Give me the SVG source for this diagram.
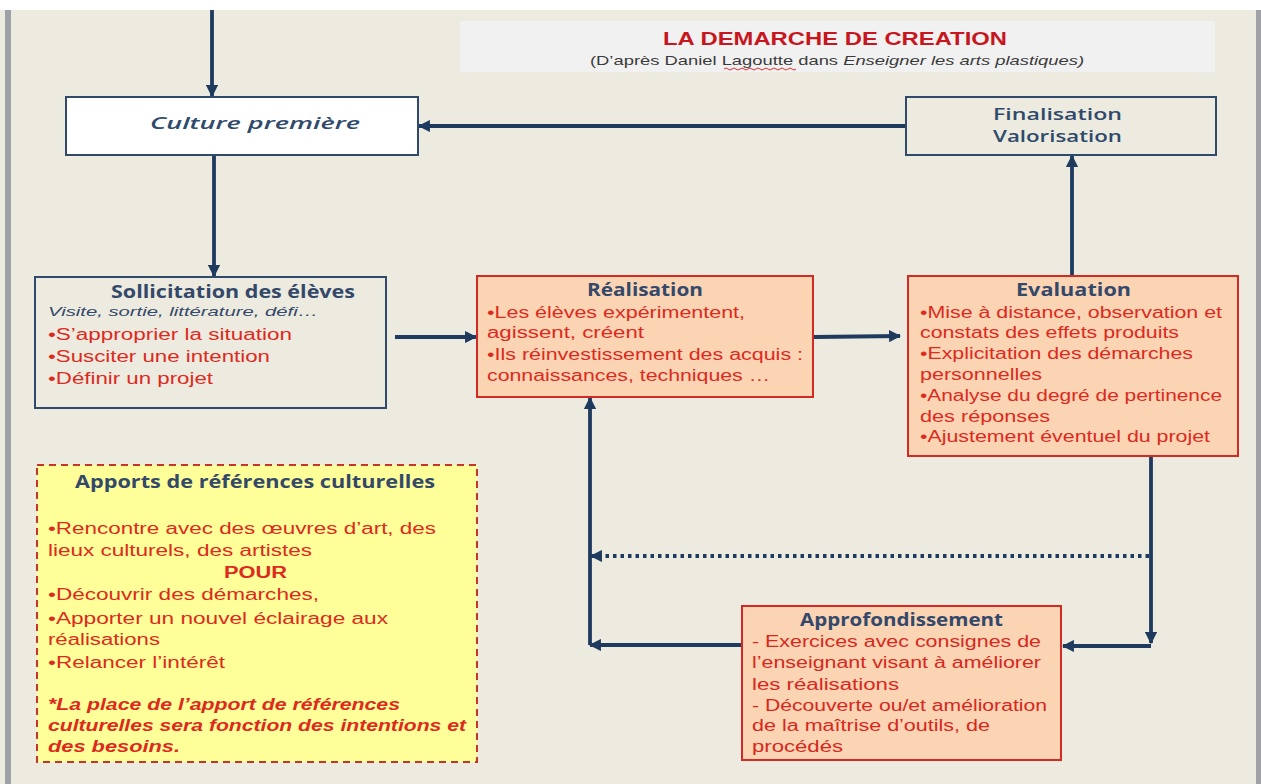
<svg xmlns="http://www.w3.org/2000/svg" width="1261" height="784" viewBox="0 0 1261 784">
<style>
.bg{fill:#EDEBE0}
.navybox{fill:none;stroke:#2F4A6B;stroke-width:2}
.whitebox{fill:#FFFFFF;stroke:#2F4A6B;stroke-width:2}
.peach{fill:#FBD4B4;stroke:#D42A25;stroke-width:2}
.yellow{fill:#FFFF99;stroke:#C6352A;stroke-width:2;stroke-dasharray:7 5}
.con{fill:none;stroke:#1F3A5F;stroke-width:3.8}
.dot{fill:none;stroke:#1F3A5F;stroke-width:3.8;stroke-dasharray:3.5 4}
.hd{font-family:"Open Sans","Liberation Sans",sans-serif;font-weight:bold;font-size:17px;fill:#34496A}
.body{font-family:"Liberation Sans",Arial,sans-serif;font-size:16px;fill:#DD2A1E}
.cond{font-family:"Liberation Sans Narrow","Liberation Sans",sans-serif;font-size:16px;fill:#D7281E}
.nv{font-family:"Open Sans","Liberation Sans",sans-serif;font-size:17px;font-weight:600;fill:#2F4A6B}
</style>
<defs>
<marker id="ah" viewBox="0 0 10 10" refX="9" refY="5" markerWidth="3.2" markerHeight="3.2" orient="auto">
<path d="M0,0 L10,5 L0,10 Z" fill="#1F3A5F"/>
</marker>
</defs>
<rect x="0" y="0" width="1261" height="784" class="bg"/>
<rect x="0" y="0" width="1261" height="10" fill="#FFFFFF"/>
<rect x="5" y="10" width="6" height="774" fill="#9EA2A6"/>
<rect x="1256" y="10" width="5" height="774" fill="#9EA2A6"/>

<g id="title">
<rect x="460" y="21" width="755" height="51" fill="#F1F1F1"/>
<text x="835" y="45" text-anchor="middle" font-family="Liberation Sans,Arial,sans-serif" font-size="19" font-weight="bold" fill="#C8161E" textLength="344" lengthAdjust="spacingAndGlyphs">LA DEMARCHE DE CREATION</text>
<text x="590" y="65" font-family="Liberation Sans,Arial,sans-serif" font-size="13.5" fill="#3B3B3B" textLength="494" lengthAdjust="spacingAndGlyphs">(D’après Daniel Lagoutte  dans <tspan font-style="italic">Enseigner les arts plastiques)</tspan></text>
<path d="M724,69 q2,-2 4,0 t4,0 t4,0 t4,0 t4,0 t4,0 t4,0 t4,0 t4,0 t4,0 t4,0 t4,0 t4,0 t4,0 t4,0 t4,0 t4,0 t4,0" fill="none" stroke="#E03030" stroke-width="1"/>
</g>

<g id="connectors">
<line class="con" x1="212" y1="10" x2="212" y2="96" marker-end="url(#ah)"/>
<line class="con" x1="214" y1="156" x2="214" y2="276" marker-end="url(#ah)"/>
<line class="con" x1="906" y1="126" x2="419" y2="126" marker-end="url(#ah)"/>
<line class="con" x1="1072" y1="276" x2="1072" y2="156" marker-end="url(#ah)"/>
<line class="con" x1="395" y1="337" x2="476" y2="337" marker-end="url(#ah)"/>
<line class="con" x1="814" y1="337" x2="900" y2="336" marker-end="url(#ah)"/>
<line class="con" x1="1151" y1="457" x2="1151" y2="643" marker-end="url(#ah)"/>
<line class="con" x1="1151" y1="646" x2="1063" y2="646" marker-end="url(#ah)"/>
<line class="dot" x1="1149" y1="556" x2="591" y2="556" marker-end="url(#ah)"/>
<line class="con" x1="742" y1="645" x2="590" y2="645" marker-end="url(#ah)"/>
<line class="con" x1="590" y1="645" x2="590" y2="398" marker-end="url(#ah)"/>
</g>

<g id="culture">
<rect x="66" y="97" width="352" height="58" class="whitebox"/>
<text x="150" y="129" class="nv" font-style="italic" textLength="210" lengthAdjust="spacingAndGlyphs">Culture première</text>
</g>

<g id="finalisation">
<rect x="906" y="97" width="310" height="58" class="navybox"/>
<text x="993" y="120" class="nv" textLength="129" lengthAdjust="spacingAndGlyphs">Finalisation</text>
<text x="993" y="142" class="nv" textLength="129" lengthAdjust="spacingAndGlyphs">Valorisation</text>
</g>

<g id="sollicitation">
<rect x="35" y="277" width="351" height="131" class="navybox"/>
<text x="111" y="298" class="hd" textLength="244" lengthAdjust="spacingAndGlyphs">Sollicitation des élèves</text>
<text x="48" y="316" font-family="Liberation Sans,Arial,sans-serif" font-size="13" font-style="italic" fill="#34496A" textLength="270" lengthAdjust="spacingAndGlyphs">Visite, sortie, littérature, défi…</text>
<text x="48" y="340" class="body" textLength="244" lengthAdjust="spacingAndGlyphs">•S’approprier  la situation</text>
<text x="48" y="362" class="body" textLength="222" lengthAdjust="spacingAndGlyphs">•Susciter une intention</text>
<text x="48" y="384" class="body" textLength="165" lengthAdjust="spacingAndGlyphs">•Définir un projet</text>
</g>

<g id="realisation">
<rect x="477" y="276" width="336" height="121" class="peach"/>
<text x="587" y="296" class="hd" textLength="116" lengthAdjust="spacingAndGlyphs">Réalisation</text>
<text x="487" y="318" class="body" textLength="258" lengthAdjust="spacingAndGlyphs">•Les élèves expérimentent,</text>
<text x="487" y="338" class="body" textLength="157" lengthAdjust="spacingAndGlyphs">agissent, créent</text>
<text x="487" y="360" class="body" textLength="316" lengthAdjust="spacingAndGlyphs">•Ils réinvestissement des acquis :</text>
<text x="487" y="381" class="body" textLength="283" lengthAdjust="spacingAndGlyphs">connaissances, techniques …</text>
</g>

<g id="evaluation">
<rect x="908" y="276" width="330" height="180" class="peach"/>
<text x="1016" y="296" class="hd" textLength="115" lengthAdjust="spacingAndGlyphs">Evaluation</text>
<text x="920" y="318" class="body" textLength="302" lengthAdjust="spacingAndGlyphs">•Mise à distance, observation et</text>
<text x="920" y="338" class="body" textLength="259" lengthAdjust="spacingAndGlyphs">constats des effets produits</text>
<text x="920" y="359" class="body" textLength="273" lengthAdjust="spacingAndGlyphs">•Explicitation des démarches</text>
<text x="920" y="380" class="body" textLength="122" lengthAdjust="spacingAndGlyphs">personnelles</text>
<text x="920" y="401" class="body" textLength="302" lengthAdjust="spacingAndGlyphs">•Analyse du degré de pertinence</text>
<text x="920" y="422" class="body" textLength="130" lengthAdjust="spacingAndGlyphs">des réponses</text>
<text x="920" y="442" class="body" textLength="290" lengthAdjust="spacingAndGlyphs">•Ajustement éventuel du projet</text>
</g>

<g id="apports">
<rect x="37" y="465" width="440" height="297" class="yellow"/>
<text x="75" y="488" class="hd" textLength="360" lengthAdjust="spacingAndGlyphs">Apports  de références  culturelles</text>
<text x="48" y="534" class="body" textLength="388" lengthAdjust="spacingAndGlyphs">•Rencontre avec des œuvres d’art, des</text>
<text x="48" y="556" class="body" textLength="264" lengthAdjust="spacingAndGlyphs">lieux culturels, des artistes</text>
<text x="224" y="578" class="body" font-weight="bold" textLength="63" lengthAdjust="spacingAndGlyphs">POUR</text>
<text x="48" y="600" class="body" textLength="271" lengthAdjust="spacingAndGlyphs">•Découvrir des démarches,</text>
<text x="48" y="624" class="body" textLength="340" lengthAdjust="spacingAndGlyphs">•Apporter un nouvel éclairage aux</text>
<text x="48" y="645" class="body" textLength="112" lengthAdjust="spacingAndGlyphs">réalisations</text>
<text x="48" y="668" class="body" textLength="177" lengthAdjust="spacingAndGlyphs">•Relancer l’intérêt</text>
<text x="48" y="710" class="body" font-weight="bold" font-style="italic" fill="#F01E1E" textLength="352" lengthAdjust="spacingAndGlyphs">*La place de l’apport de références</text>
<text x="48" y="731" class="body" font-weight="bold" font-style="italic" fill="#F01E1E" textLength="418" lengthAdjust="spacingAndGlyphs">culturelles sera fonction des intentions et</text>
<text x="48" y="752" class="body" font-weight="bold" font-style="italic" fill="#F01E1E" textLength="132" lengthAdjust="spacingAndGlyphs">des besoins.</text>
</g>

<g id="approfondissement">
<rect x="742" y="606" width="319" height="154" class="peach"/>
<text x="800" y="626" class="hd" textLength="203" lengthAdjust="spacingAndGlyphs">Approfondissement</text>
<text x="752" y="647" class="cond" textLength="289" lengthAdjust="spacingAndGlyphs">- Exercices avec consignes de</text>
<text x="752" y="668" class="cond" textLength="289" lengthAdjust="spacingAndGlyphs">l’enseignant visant à améliorer</text>
<text x="752" y="690" class="cond" textLength="147" lengthAdjust="spacingAndGlyphs">les réalisations</text>
<text x="752" y="711" class="cond" textLength="295" lengthAdjust="spacingAndGlyphs">- Découverte ou/et amélioration</text>
<text x="752" y="731" class="cond" textLength="238" lengthAdjust="spacingAndGlyphs">de la maîtrise d’outils, de</text>
<text x="752" y="752" class="cond" textLength="91" lengthAdjust="spacingAndGlyphs">procédés</text>
</g>
</svg>
